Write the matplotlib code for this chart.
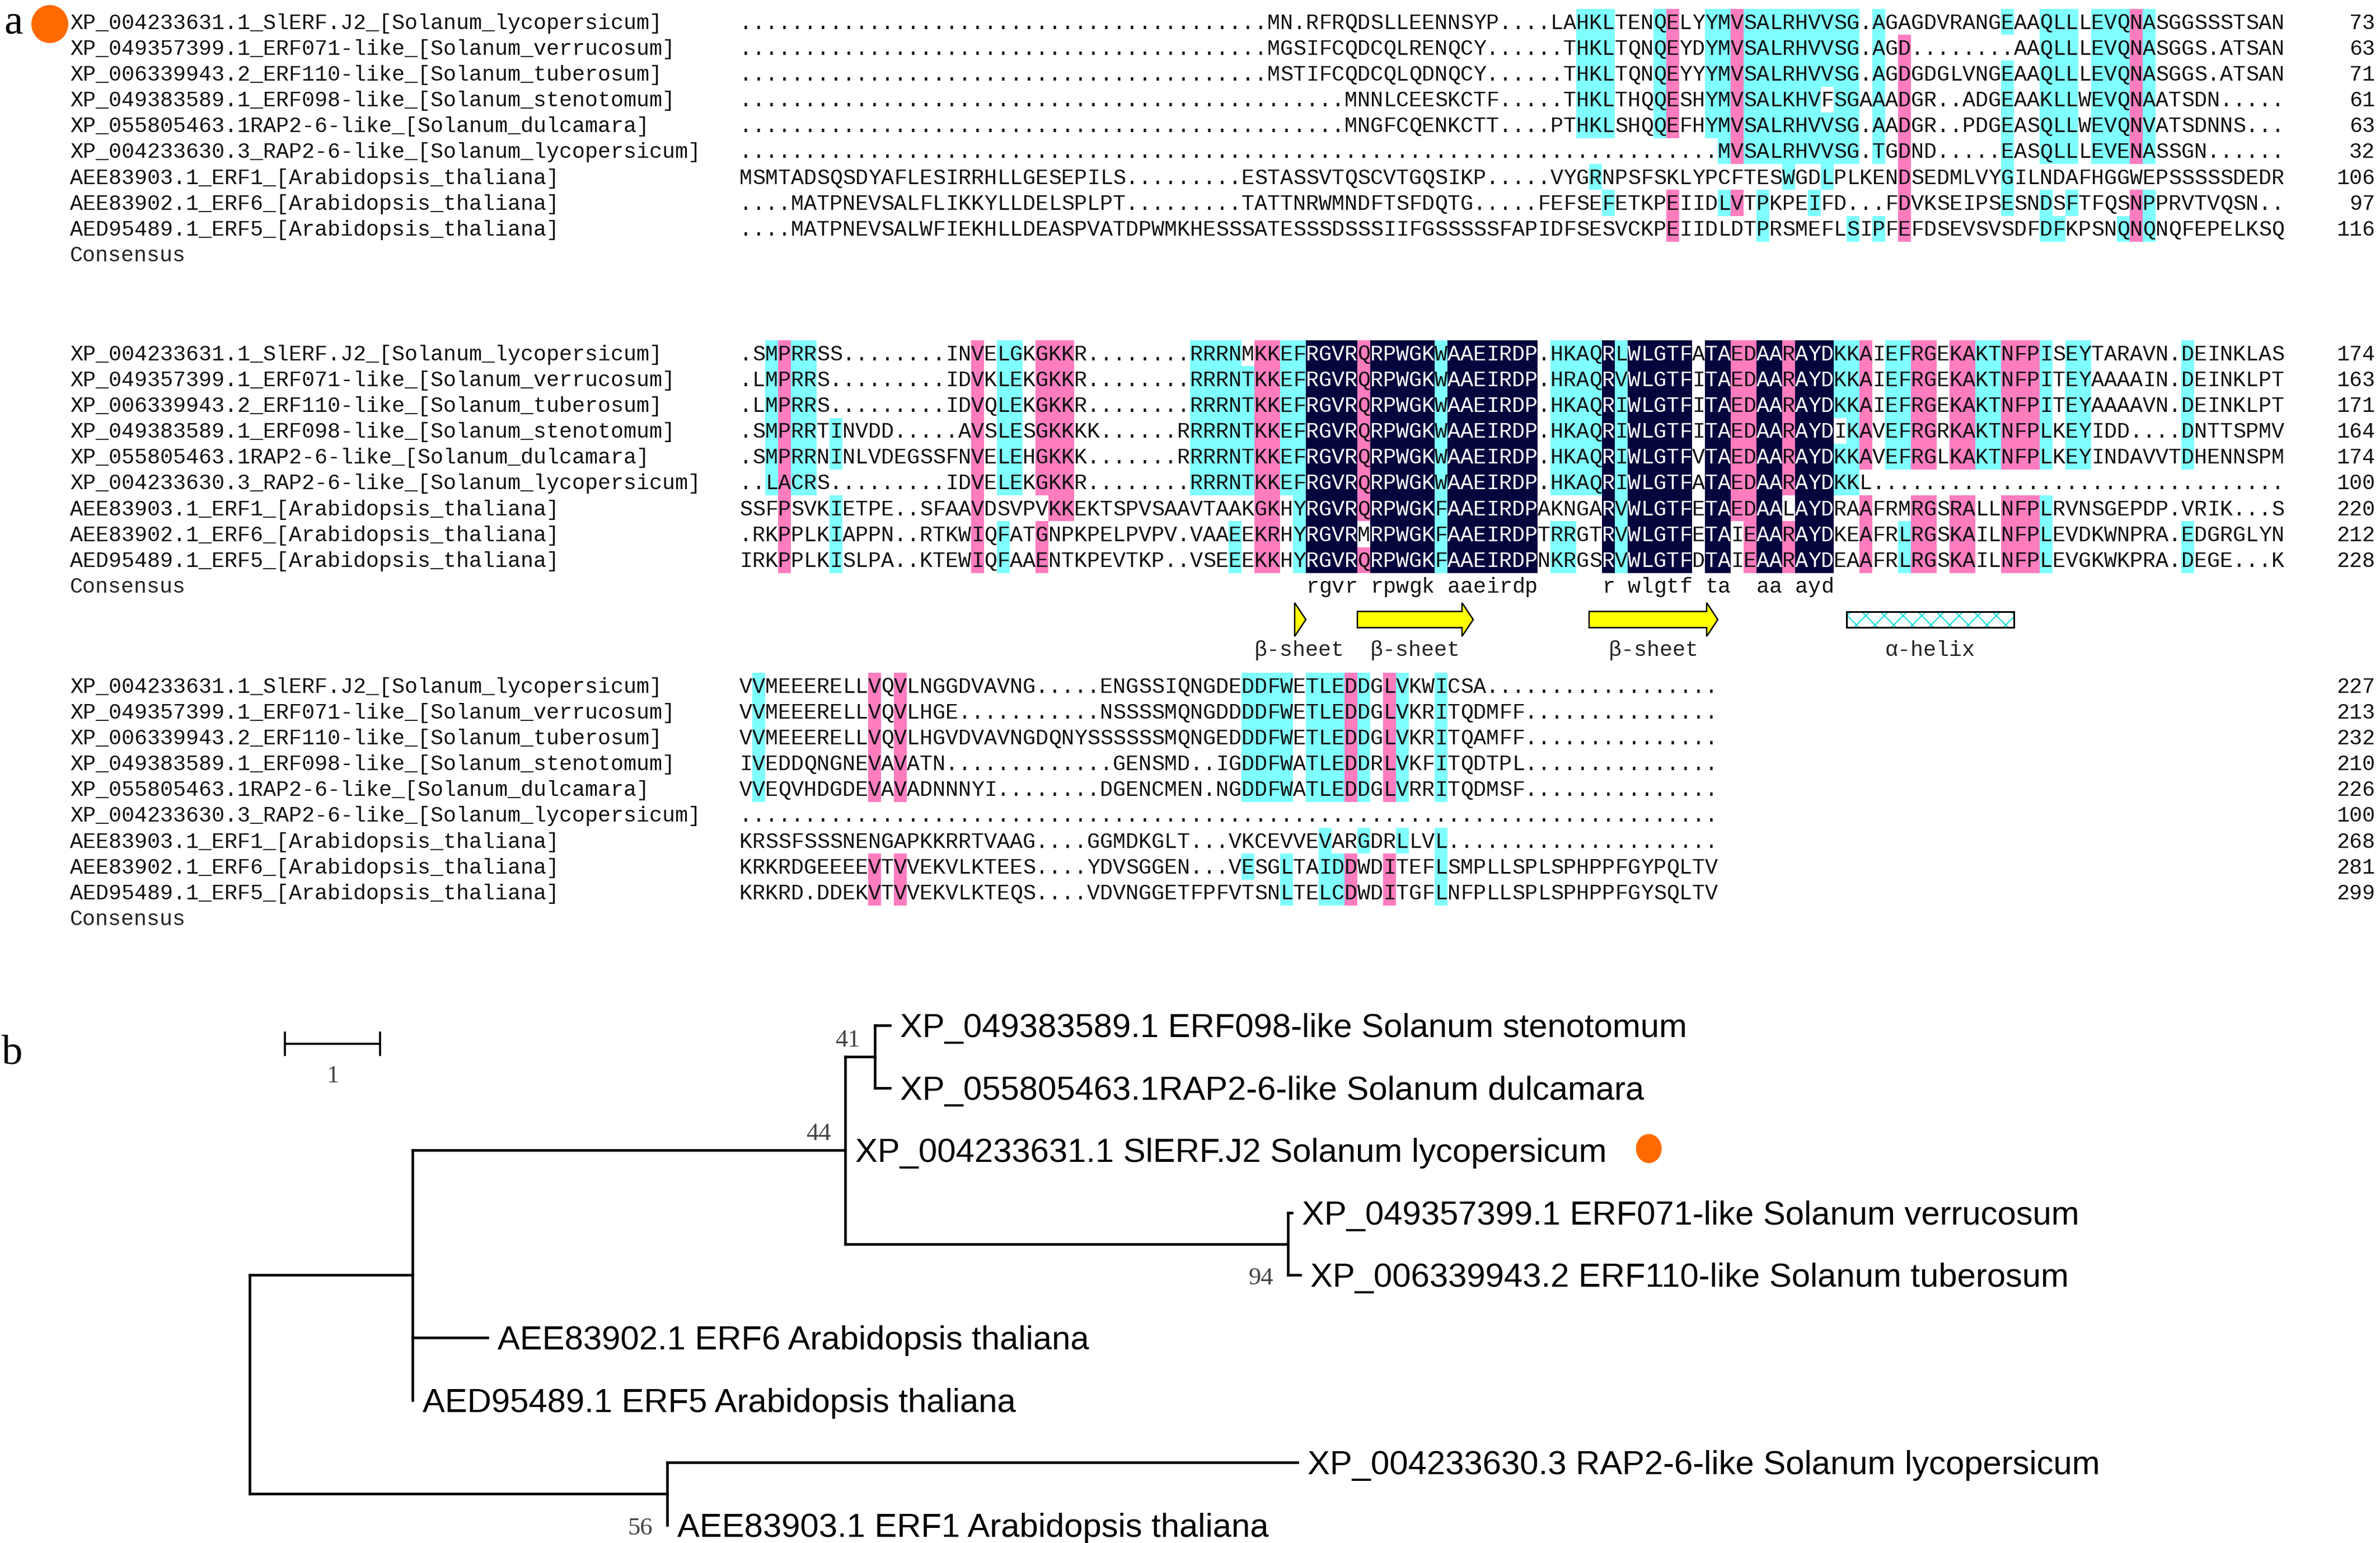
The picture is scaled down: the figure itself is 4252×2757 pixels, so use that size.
import matplotlib
matplotlib.use("Agg")
import matplotlib.pyplot as plt
from matplotlib.patches import Rectangle, Polygon, Ellipse
import numpy as np

# ============================ DATA ============================
SEQ_NAMES = [
    "XP_004233631.1_SlERF.J2_[Solanum_lycopersicum]",
    "XP_049357399.1_ERF071-like_[Solanum_verrucosum]",
    "XP_006339943.2_ERF110-like_[Solanum_tuberosum]",
    "XP_049383589.1_ERF098-like_[Solanum_stenotomum]",
    "XP_055805463.1RAP2-6-like_[Solanum_dulcamara]",
    "XP_004233630.3_RAP2-6-like_[Solanum_lycopersicum]",
    "AEE83903.1_ERF1_[Arabidopsis_thaliana]",
    "AEE83902.1_ERF6_[Arabidopsis_thaliana]",
    "AED95489.1_ERF5_[Arabidopsis_thaliana]",
]
CONSENSUS_LABEL = "Consensus"

BLOCK1_SEQS = [
    "." * 41 + "MN.RFRQDSLLEENNSYP....LAHKLTENQELYYMVSALRHVVSG.AGAGDVRANGEAAQLLLEVQNASGGSSSTSAN",
    "." * 41 + "MGSIFCQDCQLRENQCY......THKLTQNQEYDYMVSALRHVVSG.AGD........AAQLLLEVQNASGGS.ATSAN",
    "." * 41 + "MSTIFCQDCQLQDNQCY......THKLTQNQEYYYMVSALRHVVSG.AGDGDGLVNGEAAQLLLEVQNASGGS.ATSAN",
    "." * 47 + "MNNLCEESKCTF.....THKLTHQQESHYMVSALKHVFSGAAADGR..ADGEAAKLLWEVQNAATSDN.....",
    "." * 47 + "MNGFCQENKCTT....PTHKLSHQQEFHYMVSALRHVVSG.AADGR..PDGEASQLLWEVQNVATSDNNS...",
    "." * 76 + "MVSALRHVVSG.TGDND.....EASQLLLEVENASSGN......",
    "MSMTADSQSDYAFLESIRRHLLGESEPILS.........ESTASSVTQSCVTGQSIKP.....VYGRNPSFSKLYPCFTESWGDLPLKENDSEDMLVYGILNDAFHGGWEPSSSSSDEDR",
    "....MATPNEVSALFLIKKYLLDELSPLPT.........TATTNRWMNDFTSFDQTG.....FEFSEFETKPEIIDLVTPKPEIFD...FDVKSEIPSESNDSFTFQSNPPRVTVQSN..",
    "....MATPNEVSALWFIEKHLLDEASPVATDPWMKHESSSATESSSDSSSIIFGSSSSSFAPIDFSESVCKPEIIDLDTPRSMEFLSIPFEFDSEVSVSDFDFKPSNQNQNQFEPELKSQ",
]
BLOCK1_ENDS = [73, 63, 71, 61, 63, 32, 106, 97, 116]
BLOCK1_CYAN = [
    (66, 68, "12345"), (72, 72, "12345"), (76, 77, "12345"), (77, 77, "6"),
    (79, 84, "123456"), (85, 85, "12356"), (86, 87, "123456"), (89, 89, "123456"),
    (99, 99, "1345678"), (102, 104, "123456"), (106, 108, "123456"), (110, 110, "12345689"),
    (67, 67, "7"), (82, 82, "7"), (85, 85, "7"),
    (68, 68, "8"), (77, 77, "8"), (80, 80, "8"), (84, 84, "8"), (102, 102, "8"), (104, 104, "8"),
    (80, 80, "9"), (87, 87, "9"), (89, 89, "9"), (102, 103, "9"), (108, 108, "9"),
]
BLOCK1_PINK = [(73, 73, "1234589"), (78, 78, "1234568"), (91, 91, "23456789"), (109, 109, "12345689")]
BLOCK1_NAVY = []

BLOCK2_SEQS = [
    ".SMPRRSS........INVELGKGKKR........RRRNMKKEFRGVRQRPWGKWAAEIRDP.HKAQRLWLGTFATAEDAARAYDKKAIEFRGEKAKTNFPISEYTARAVN.DEINKLAS",
    ".LMPRRS.........IDVKLEKGKKR........RRRNTKKEFRGVRQRPWGKWAAEIRDP.HRAQRVWLGTFITAEDAARAYDKKAIEFRGEKAKTNFPITEYAAAAIN.DEINKLPT",
    ".LMPRRS.........IDVQLEKGKKR........RRRNTKKEFRGVRQRPWGKWAAEIRDP.HKAQRIWLGTFITAEDAARAYDKKAIEFRGEKAKTNFPITEYAAAAVN.DEINKLPT",
    ".SMPRRTINVDD.....AVSLESGKKKK......RRRRNTKKEFRGVRQRPWGKWAAEIRDP.HKAQRIWLGTFITAEDAARAYDIKAVEFRGRKAKTNFPLKEYIDD....DNTTSPMV",
    ".SMPRRNINLVDEGSSFNVELEHGKKK.......RRRRNTKKEFRGVRQRPWGKWAAEIRDP.HKAQRIWLGTFVTAEDAARAYDKKAVEFRGLKAKTNFPLKEYINDAVVTDHENNSPM",
    "..LACRS.........IDVELEKGKKR........RRRNTKKEFRGVRQRPWGKWAAEIRDP.HKAQRIWLGTFATAEDAARAYDKKL" + "." * 32,
    "SSFPSVKIETPE..SFAAVDSVPVKKEKTSPVSAAVTAAKGKHYRGVRQRPWGKFAAEIRDPAKNGARVWLGTFETAEDAALAYDRAAFRMRGSRALLNFPLRVNSGEPDP.VRIK...S",
    ".RKPPLKIAPPN..RTKWIQFATGNPKPELPVPV.VAAEEKRHYRGVRMRPWGKFAAEIRDPTRRGTRVWLGTFETAIEAARAYDKEAFRLRGSKAILNFPLEVDKWNPRA.EDGRGLYN",
    "IRKPPLKISLPA..KTEWIQFAAENTKPEVTKP..VSEEEKKHYRGVRQRPWGKFAAEIRDPNKRGSRVWLGTFDTAIEAARAYDEAAFRLRGSKAILNFPLEVGKWKPRA.DEGE...K",
]
BLOCK2_ENDS = [174, 163, 171, 164, 174, 100, 220, 212, 228]
BLOCK2_CYAN = [
    (3, 3, "123456"), (5, 6, "123456"), (8, 8, "45789"), (21, 22, "123456"), (21, 21, "89"),
    (36, 39, "123456"), (40, 40, "23456"), (39, 39, "89"), (43, 44, "123456"), (44, 44, "789"),
    (55, 55, "123456789"), (64, 67, "123456"), (64, 65, "89"), (69, 69, "123456789"),
    (86, 86, "12356"), (87, 87, "123456"), (90, 91, "12345"), (91, 91, "89"), (97, 98, "12345"),
    (102, 102, "12345789"), (104, 105, "12345"), (113, 113, "1234589"),
]
BLOCK2_PINK = [
    (4, 4, "123456789"), (19, 19, "123456789"), (24, 26, "123456"), (25, 26, "7"), (24, 24, "89"),
    (41, 42, "123456789"), (49, 49, "12345679"), (78, 79, "1234567"), (79, 79, "89"),
    (82, 82, "12345689"), (88, 88, "12345789"), (92, 93, "12345789"), (95, 96, "12345789"),
    (99, 101, "12345789"),
]
BLOCK2_NAVY = [
    (45, 48, "123456789"), (50, 54, "123456789"), (56, 62, "123456789"), (68, 68, "123456789"),
    (70, 74, "123456789"), (76, 77, "123456789"), (80, 81, "123456789"), (83, 85, "123456789"),
]
BLOCK2_CONSENSUS = " " * 44 + "rgvr rpwgk aaeirdp" + " " * 5 + "r wlgtf ta  aa ayd"

BLOCK3_SEQS = [
    "VVMEEERELLVQVLNGGDVAVNG.....ENGSSIQNGDEDDFWETLEDDGLVKWICSA" + "." * 18,
    "VVMEEERELLVQVLHGE...........NSSSSMQNGDDDDFWETLEDDGLVKRITQDMFF" + "." * 15,
    "VVMEEERELLVQVLHGVDVAVNGDQNYSSSSSSMQNGEDDDFWETLEDDGLVKRITQAMFF" + "." * 15,
    "IVEDDQNGNEVAVATN.............GENSMD..IGDDFWATLEDDRLVKFITQDTPL" + "." * 15,
    "VVEQVHDGDEVAVADNNNYI........DGENCMEN.NGDDFWATLEDDGLVRRITQDMSF" + "." * 15,
    "." * 76,
    "KRSSFSSSNENGAPKKRRTVAAG....GGMDKGLT...VKCEVVEVARGDRLLVL" + "." * 21,
    "KRKRDGEEEEVTVVEKVLKTEES....YDVSGGEN...VESGLTAIDDWDITEFLSMPLLSPLSPHPPFGYPQLTV",
    "KRKRD.DDEKVTVVEKVLKTEQS....VDVNGGETFPFVTSNLTELCDWDITGFLNFPLLSPLSPHPPFGYSQLTV",
]
BLOCK3_ENDS = [227, 213, 232, 210, 226, 100, 268, 281, 299]
BLOCK3_CYAN = [
    (2, 2, "12345"), (40, 43, "12345"), (45, 47, "12345"), (49, 49, "12345"), (52, 52, "123457"),
    (55, 55, "12345789"), (46, 46, "7"), (49, 49, "7"), (40, 40, "8"), (43, 43, "8"), (46, 47, "8"),
    (43, 43, "9"), (46, 47, "9"),
]
BLOCK3_PINK = [(11, 11, "1234589"), (13, 13, "1234589"), (48, 48, "1234589"), (51, 51, "1234589")]
BLOCK3_NAVY = []

SS_ELEMENTS = [("sheet", 44, 44, "β-sheet"), ("sheet", 49, 57, "β-sheet"),
               ("sheet", 67, 76, "β-sheet"), ("helix", 87, 99, "α-helix")]

TREE_TIPS = [
    "XP_049383589.1 ERF098-like Solanum stenotomum",
    "XP_055805463.1RAP2-6-like Solanum dulcamara",
    "XP_004233631.1 SlERF.J2 Solanum lycopersicum",
    "XP_049357399.1 ERF071-like Solanum verrucosum",
    "XP_006339943.2 ERF110-like Solanum tuberosum",
    "AEE83902.1 ERF6 Arabidopsis thaliana",
    "AED95489.1 ERF5 Arabidopsis thaliana",
    "XP_004233630.3 RAP2-6-like Solanum lycopersicum",
    "AEE83903.1 ERF1 Arabidopsis thaliana",
]
TIP_PARENT = ["C", "C", "B", "D", "D", "A", "A", "E", "E"]
TIP_BRANCH = [0.16, 0.16, 0.0, 0.04, 0.13, 0.79, 0.0, 6.62, 0.0]
NODE_PARENT = {"A": "root", "B": "A", "C": "B", "D": "B", "E": "root"}
NODE_BRANCH = {"A": 1.71, "B": 4.55, "C": 0.31, "D": 4.65, "E": 4.39}
BOOTSTRAP = {"C": 41, "B": 44, "D": 94, "E": 56}
BOOT_SIDE = {"C": "above", "B": "above", "D": "below", "E": "below"}
SCALE_BAR_LEN = 1
MARKED_TIP = 2

# ============================ STYLE ============================
W, H, DPI = 4252, 2757, 100
MONO = ["Liberation Mono", "DejaVu Sans Mono"]
SANS = ["Liberation Sans", "DejaVu Sans"]
SERIF = ["Liberation Serif", "DejaVu Serif"]
FS_SEQ = 27.6
X0, CW, RH = 1321.0, 23.0, 46.2
BLOCK_Y0 = [39.0, 631.0, 1225.0]
NAME_X, NUM_X = 125, 4243
CAP_OFF = 12.5
COL = {"c": (0.5, 1.0, 1.0, 1.0), "m": (1.0, 0.49, 0.75, 1.0), "n": (0.02, 0.02, 0.24, 1.0)}
ORANGE = "#FF6A00"

fig = plt.figure(figsize=(W / DPI, H / DPI), dpi=DPI)
ax = fig.add_axes([0, 0, 1, 1])
ax.axis("off")


def make_mask(ncols, cyan, pink, navy):
    img = np.zeros((9, ncols, 4))
    navy_mask = np.zeros((9, ncols), dtype=bool)
    for runs, key in ((cyan, "c"), (pink, "m"), (navy, "n")):
        for c0, c1, rows in runs:
            for r in rows:
                img[int(r) - 1, c0 - 1:c1] = COL[key]
                if key == "n":
                    navy_mask[int(r) - 1, c0 - 1:c1] = True
    return img, navy_mask


blocks = [
    (BLOCK1_SEQS, BLOCK1_ENDS, BLOCK1_CYAN, BLOCK1_PINK, BLOCK1_NAVY, None),
    (BLOCK2_SEQS, BLOCK2_ENDS, BLOCK2_CYAN, BLOCK2_PINK, BLOCK2_NAVY, BLOCK2_CONSENSUS),
    (BLOCK3_SEQS, BLOCK3_ENDS, BLOCK3_CYAN, BLOCK3_PINK, BLOCK3_NAVY, None),
]

for bi, (seqs, ends, cy, pk, nv, cons) in enumerate(blocks):
    y0 = BLOCK_Y0[bi]
    ncols = max(len(s) for s in seqs)
    img, navy_mask = make_mask(ncols, cy, pk, nv)
    ax.imshow(img, extent=(X0, X0 + ncols * CW, y0 + 8.5 * RH, y0 - 0.5 * RH),
              origin="upper", interpolation="nearest", aspect="auto", zorder=0)
    for r in range(9):
        y = y0 + r * RH
        ax.text(NAME_X, y + CAP_OFF, SEQ_NAMES[r], fontfamily=MONO, fontsize=FS_SEQ,
                ha="left", va="baseline", color="#111111")
        for c, ch in enumerate(seqs[r]):
            ax.text(X0 + (c + 0.5) * CW, y + CAP_OFF, ch, fontfamily=MONO, fontsize=FS_SEQ,
                    ha="center", va="baseline",
                    color="white" if navy_mask[r, c] else "#111111", zorder=2)
        ax.text(NUM_X, y + CAP_OFF, str(ends[r]), fontfamily=MONO, fontsize=FS_SEQ,
                ha="right", va="baseline", color="#111111")
    yc = y0 + 9 * RH
    ax.text(NAME_X, yc + CAP_OFF, CONSENSUS_LABEL, fontfamily=MONO, fontsize=FS_SEQ,
            ha="left", va="baseline", color="#222222")
    if cons:
        for c, ch in enumerate(cons):
            if ch != " ":
                ax.text(X0 + (c + 0.5) * CW, yc + CAP_OFF, ch, fontfamily=MONO,
                        fontsize=FS_SEQ, ha="center", va="baseline", color="#111111")

ax.set_xlim(0, W)
ax.set_ylim(H, 0)

# secondary structure annotation under block 2
SS_Y, SS_LABEL_Y = 1107, 1172
plt.rcParams["hatch.linewidth"] = 1.6
for kind, c0, c1, label in SS_ELEMENTS:
    xa = X0 + (c0 - 1) * CW
    xb = X0 + c1 * CW
    if kind == "sheet":
        hl = min(20.0, xb - xa)
        xh = xb - hl
        pts = [(xa, SS_Y - 14.5), (xh, SS_Y - 14.5), (xh, SS_Y - 30), (xb, SS_Y),
               (xh, SS_Y + 30), (xh, SS_Y + 14.5), (xa, SS_Y + 14.5)]
        if xb - xa <= CW:
            pts = [(xa + 3, SS_Y - 30), (xb, SS_Y), (xa + 3, SS_Y + 30)]
        ax.add_patch(Polygon(pts, closed=True, facecolor="#FFFF00", edgecolor="black",
                             linewidth=1.8, zorder=3))
    else:
        ax.add_patch(Rectangle((xa, SS_Y - 14), xb - xa, 28, facecolor="white",
                               edgecolor="#22DDDD", hatch="x", linewidth=0, zorder=3))
        ax.add_patch(Rectangle((xa, SS_Y - 14), xb - xa, 28, facecolor="none",
                               edgecolor="black", linewidth=2.2, zorder=4))
    ax.text((xa + xb) / 2, SS_LABEL_Y, label, fontfamily=MONO, fontsize=FS_SEQ,
            ha="center", va="baseline", color="#222222")

# panel a marker
ax.text(24, 42, "a", fontfamily=SERIF, fontsize=54, ha="center", va="center", color="black")
ax.add_patch(Ellipse((89, 43), 66, 68, facecolor=ORANGE, edgecolor="none"))

# ============================ TREE ============================
ROOT_X, UNIT_PX = 446.0, 170.0
TIP_Y0, TIP_DY = 1832.0, 111.6
LABEL_GAP = 18
TREE_LW = 3.3
TFS = 43

node_x = {"root": ROOT_X}
def get_x(n):
    if n not in node_x:
        node_x[n] = get_x(NODE_PARENT[n]) + NODE_BRANCH[n] * UNIT_PX
    return node_x[n]
for n in NODE_PARENT:
    get_x(n)

tip_y = [TIP_Y0 + i * TIP_DY for i in range(len(TREE_TIPS))]
tip_x = [node_x[p] + b * UNIT_PX for p, b in zip(TIP_PARENT, TIP_BRANCH)]

children = {n: [] for n in list(NODE_PARENT) + ["root"]}
for i, p in enumerate(TIP_PARENT):
    children[p].append(("tip", i))
for n, p in NODE_PARENT.items():
    children[p].append(("node", n))

node_y = {}
def get_y(n):
    if n in node_y:
        return node_y[n]
    ys = [tip_y[c] if t == "tip" else get_y(c) for t, c in children[n]]
    node_y[n] = (min(ys) + max(ys)) / 2
    return node_y[n]
get_y("root")

for n, kids in children.items():
    ys = [tip_y[c] if t == "tip" else node_y[c] for t, c in kids]
    ax.plot([node_x[n], node_x[n]], [min(ys), max(ys)], color="black", lw=TREE_LW,
            solid_capstyle="projecting")
for n, p in NODE_PARENT.items():
    ax.plot([node_x[p], node_x[n]], [node_y[n], node_y[n]], color="black", lw=TREE_LW,
            solid_capstyle="projecting")
for i, p in enumerate(TIP_PARENT):
    if tip_x[i] > node_x[p]:
        ax.plot([node_x[p], tip_x[i]], [tip_y[i], tip_y[i]], color="black", lw=TREE_LW,
                solid_capstyle="projecting")

tip_texts = []
for i, lab in enumerate(TREE_TIPS):
    t = ax.text(tip_x[i] + LABEL_GAP, tip_y[i] + 21, lab, fontfamily=SANS, fontsize=TFS,
                ha="left", va="baseline", color="black")
    tip_texts.append(t)

for n, val in BOOTSTRAP.items():
    kids_y = [tip_y[c] if t == "tip" else node_y[c] for t, c in children[n]]
    if BOOT_SIDE[n] == "above":
        by = node_y[n] - 29
    else:
        by = max(kids_y) + 6
    ax.text(node_x[n] - 26, by, str(val), fontfamily=SERIF, fontsize=32,
            ha="right", va="center", color="#444444")

# marker after the highlighted tip (axes span the whole figure: display x == data x)
renderer = fig.canvas.get_renderer()
bb = tip_texts[MARKED_TIP].get_window_extent(renderer=renderer)
x_end = ax.transData.inverted().transform((bb.x1, bb.y0))[0]
ax.add_patch(Ellipse((x_end + 75, tip_y[MARKED_TIP] - 3), 46, 52, facecolor=ORANGE,
                     edgecolor="none"))

# scale bar
SB_X, SB_Y = 509.0, 1865.0
sb_x1 = SB_X + SCALE_BAR_LEN * UNIT_PX
ax.plot([SB_X, sb_x1], [SB_Y, SB_Y], color="black", lw=2.6)
ax.plot([SB_X, SB_X], [SB_Y - 20, SB_Y + 20], color="black", lw=2.6)
ax.plot([sb_x1, sb_x1], [SB_Y - 20, SB_Y + 20], color="black", lw=2.6)
ax.text((SB_X + sb_x1) / 2, SB_Y + 58, str(SCALE_BAR_LEN), fontfamily=SERIF, fontsize=32,
        ha="center", va="center", color="#444444")

ax.text(22, 1883, "b", fontfamily=SERIF, fontsize=54, ha="center", va="center", color="black")

ax.set_xlim(0, W)
ax.set_ylim(H, 0)
fig.savefig("out.png", dpi=DPI, facecolor="white")
